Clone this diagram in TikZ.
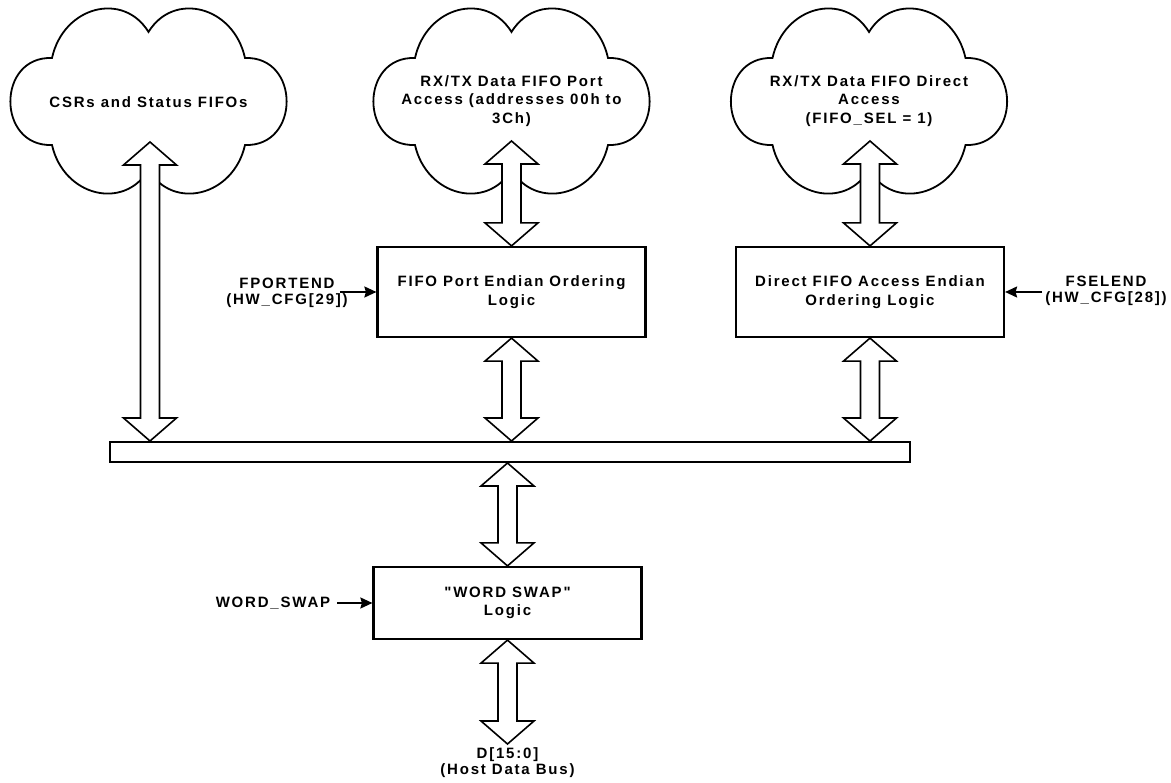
\documentclass[tikz,border=0pt]{standalone}
\usepackage{fontspec}
\newfontfamily\arialb{Liberation Sans}[LetterSpace=12]
\usetikzlibrary{arrows.meta,calc}
\tikzset{
  x=1pt,y=-1pt,
  txt/.style={font=\arialb\bfseries\fontsize{15}{18.5}\selectfont, align=center, inner sep=0pt},
  sig/.style={font=\arialb\bfseries\fontsize{15}{16}\selectfont, align=center, inner sep=0pt},
  blk/.style={draw, line width=2.2pt, minimum width=268pt, minimum height=90pt, txt},
  busbar/.style={draw, line width=2pt, minimum width=800pt, minimum height=20pt, inner sep=0pt},
  dbl/.style={draw, fill=white, line width=1.6pt, line join=miter,
    to path={let \p1=(\tikztostart), \p2=(\tikztotarget) in
      (\x1,\y1) -- (\x1+26.5pt,\y1-23pt) -- (\x1+9.5pt,\y1-23pt) -- (\x1+9.5pt,\y2+23pt)
      -- (\x1+26.5pt,\y2+23pt) -- (\x1,\y2) -- (\x1-26.5pt,\y2+23pt) -- (\x1-9.5pt,\y2+23pt)
      -- (\x1-9.5pt,\y1-23pt) -- (\x1-26.5pt,\y1-23pt) -- cycle}},
  ctl/.style={-{Stealth[length=12pt,width=11pt,inset=1.5pt]}, line width=1.8pt},
  cloudpic/.pic={\draw[line width=1.8pt, fill=white]
    (0,-69) .. controls (25,-110) and (85,-95) .. (96.5,-43)
    .. controls (152,-45) and (152,46) .. (96.5,44)
    .. controls (85,95) and (25,110) .. (0,69)
    .. controls (-25,110) and (-85,95) .. (-96.5,44)
    .. controls (-152,46) and (-152,-45) .. (-96.5,-43)
    .. controls (-85,-95) and (-25,-110) .. (0,-69) -- cycle;}
}
\begin{document}
\begin{tikzpicture}
\useasboundingbox[fill=white] (0,0) rectangle (1171,783);
% clouds
\pic at (148.5,101) {cloudpic};
\pic at (511.5,101) {cloudpic};
\pic at (869,101) {cloudpic};
\node[txt] (c1) at (148.5,102) {CSRs and Status FIFOs};
\node[txt] (c2) at (511.5,101) {RX/TX Data FIFO Port\\Access (addresses 00h to\\3Ch)};
\node[txt] (c3) at (869,101) {RX/TX Data FIFO Direct\\Access\\(FIFO\_SEL = 1)};
\coordinate (c1a) at (150,142);
\coordinate (c2a) at (511.5,141);
\coordinate (c3a) at (870,141);
% blocks
\node[blk] (b1) at (511.5,292) {FIFO Port Endian Ordering\\Logic};
\node[blk] (b2) at (870,292) {Direct FIFO Access Endian\\Ordering Logic};
\node[blk, minimum height=72pt] (b3) at (507.5,603) {"WORD SWAP"\\Logic};
\node[busbar] (bus) at (510,452) {};
% bus arrows
\path[dbl] (c1a) to (bus.north -| c1a);
\path[dbl] (c2a) to (b1.north);
\path[dbl] (c3a) to (b2.north -| c3a);
\path[dbl] (b1.south) to (bus.north -| b1.south);
\path[dbl] (b2.south -| c3a) to (bus.north -| c3a);
\path[dbl] (bus.south -| b3.north) to (b3.north);
\coordinate (dbot) at (507.5,744);
\path[dbl] (b3.south) to (dbot);
% signal labels
\node[sig] (fport) at (287,293) {FPORTEND\\(HW\_CFG[29])};
\node[sig] (fsel) at (1106,291) {FSELEND\\(HW\_CFG[28])};
\node[sig] (wsw) at (273,603) {WORD\_SWAP};
\node[sig] (dbus) at (507.5,763) {D[15:0]\\(Host Data Bus)};
\coordinate (fportA) at (340,292);
\coordinate (fselA) at (1042,292);
\coordinate (wswA) at (337,603);
\draw[ctl] (fportA) -- (b1.west |- fportA);
\draw[ctl] (fselA) -- (b2.east |- fselA);
\draw[ctl] (wswA) -- (b3.west |- wswA);
\end{tikzpicture}
\end{document}
